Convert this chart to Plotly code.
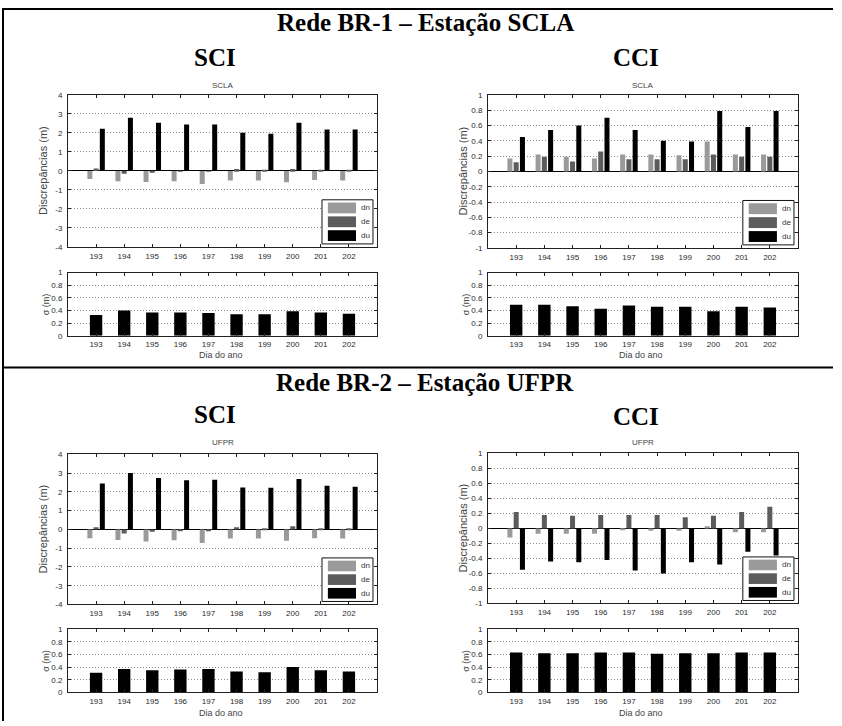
import plotly.graph_objects as go

W, H = 842, 726

# ---------------- data ----------------
days = [193, 194, 195, 196, 197, 198, 199, 200, 201, 202]

# Rede BR-1 - SCLA - SCI
scla_sci_dn = [-0.43, -0.55, -0.59, -0.55, -0.69, -0.50, -0.50, -0.60, -0.48, -0.50]
scla_sci_de = [0.12, -0.15, -0.08, -0.05, -0.02, 0.10, 0.01, 0.10, 0.01, 0.05]
scla_sci_du = [2.22, 2.79, 2.53, 2.44, 2.44, 2.01, 1.96, 2.53, 2.18, 2.18]
scla_sci_sigma = [0.33, 0.40, 0.37, 0.37, 0.36, 0.34, 0.34, 0.39, 0.37, 0.35]

# Rede BR-1 - SCLA - CCI
scla_cci_dn = [0.17, 0.22, 0.19, 0.17, 0.22, 0.22, 0.21, 0.39, 0.22, 0.22]
scla_cci_de = [0.12, 0.19, 0.13, 0.26, 0.16, 0.16, 0.16, 0.22, 0.19, 0.19]
scla_cci_du = [0.45, 0.54, 0.60, 0.70, 0.54, 0.40, 0.39, 0.79, 0.58, 0.79]
scla_cci_sigma = [0.49, 0.49, 0.47, 0.43, 0.48, 0.46, 0.46, 0.39, 0.46, 0.45]

# Rede BR-2 - UFPR - SCI
ufpr_sci_dn = [-0.47, -0.56, -0.65, -0.58, -0.73, -0.49, -0.49, -0.61, -0.47, -0.49]
ufpr_sci_de = [0.12, -0.22, -0.12, -0.06, -0.07, 0.12, 0.01, 0.17, 0.02, 0.05]
ufpr_sci_du = [2.45, 3.00, 2.74, 2.62, 2.65, 2.24, 2.22, 2.69, 2.32, 2.27]
ufpr_sci_sigma = [0.31, 0.37, 0.35, 0.36, 0.37, 0.33, 0.32, 0.40, 0.35, 0.33]

# Rede BR-2 - UFPR - CCI
ufpr_cci_dn = [-0.12, -0.07, -0.07, -0.07, -0.02, -0.03, -0.03, 0.03, -0.05, -0.05]
ufpr_cci_de = [0.22, 0.18, 0.17, 0.18, 0.18, 0.18, 0.15, 0.17, 0.22, 0.29]
ufpr_cci_du = [-0.55, -0.44, -0.45, -0.42, -0.56, -0.60, -0.45, -0.48, -0.31, -0.36]
ufpr_cci_sigma = [0.63, 0.62, 0.62, 0.63, 0.63, 0.61, 0.62, 0.62, 0.63, 0.63]

sci_yticks = [-4, -3, -2, -1, 0, 1, 2, 3, 4]
sci_yticktext = ["-4", "-3", "-2", "-1", "0", "1", "2", "3", "4"]
cci_yticks = [-1, -0.8, -0.6, -0.4, -0.2, 0, 0.2, 0.4, 0.6, 0.8, 1]
cci_yticktext = ["-1", "-0.8", "-0.6", "-0.4", "-0.2", "0", "0.2", "0.4", "0.6", "0.8", "1"]
sig_yticks = [0, 0.2, 0.4, 0.6, 0.8, 1]
sig_yticktext = ["0", "0.2", "0.4", "0.6", "0.8", "1"]
series_names = ["dn", "de", "du"]
series_colors = ["#9a9a9a", "#5c5c5c", "#000000"]

# ---------------- layout helpers ----------------
def fx(p):
    return p / W

def fy(p):
    return 1 - p / H

SANS = "Liberation Sans, Arial, sans-serif"
TICKFONT = dict(family=SANS, size=8, color="#2a2a2a")
GRID = "#8c8c8c"
AXC = "#222222"
DOTS = "1px,2px"

fig = go.Figure()

panels = [
    (1, 2, 68, 377, 92, 246, 272, 336,
     (scla_sci_dn, scla_sci_de, scla_sci_du, scla_sci_sigma), "sci", "SCLA", 83, 355),
    (3, 4, 488, 798, 92, 247, 272, 336,
     (scla_cci_dn, scla_cci_de, scla_cci_du, scla_cci_sigma), "cci", "SCLA", 83, 355),
    (5, 6, 68, 377, 456, 608, 633, 697,
     (ufpr_sci_dn, ufpr_sci_de, ufpr_sci_du, ufpr_sci_sigma), "sci", "UFPR", 444, 718),
    (7, 8, 488, 798, 455, 607, 633, 697,
     (ufpr_cci_dn, ufpr_cci_de, ufpr_cci_du, ufpr_cci_sigma), "cci", "UFPR", 444, 718),
]

bar_offsets = [-0.311, -0.089, 0.133]
bar_width = 0.178

annotations = []
shapes = []

def axname(i, kind):
    return kind if i == 1 else f"{kind}{i}"

for (mi, si, x0, x1, mt, mb, st, sb, data, kind, title, title_y, xlab_y) in panels:
    dn, de, du, sig = data
    for vals, name, col, off in zip((dn, de, du), series_names, series_colors, bar_offsets):
        fig.add_trace(go.Bar(
            x=days, y=vals, name=name, marker=dict(color=col, line=dict(width=0)),
            width=bar_width, offset=off, showlegend=False,
            xaxis=axname(mi, "x"), yaxis=axname(mi, "y")))
    fig.add_trace(go.Bar(
        x=days, y=sig, name="sigma", marker=dict(color="#000000", line=dict(width=0)),
        width=0.44, offset=-0.22, showlegend=False,
        xaxis=axname(si, "x"), yaxis=axname(si, "y")))

    common_x = dict(range=[192, 203], tickvals=days, ticktext=[str(d) for d in days],
                    ticks="inside", ticklen=3, tickcolor=AXC, showline=True, linecolor=AXC,
                    linewidth=1, mirror="ticks", showgrid=False, zeroline=False,
                    tickfont=TICKFONT, ticklabelstandoff=1, fixedrange=True)
    if kind == "sci":
        yr, tv, tt = [-4, 4], sci_yticks, sci_yticktext
    else:
        yr, tv, tt = [-1, 1], cci_yticks, cci_yticktext
    fig.layout[axname(mi, "xaxis")] = dict(domain=[fx(x0), fx(x1)], anchor=axname(mi, "y"), **common_x)
    fig.layout[axname(mi, "yaxis")] = dict(
        domain=[fy(mb), fy(mt)], anchor=axname(mi, "x"), range=yr, tickvals=tv, ticktext=tt,
        ticks="inside", ticklen=3, tickcolor=AXC, showline=True, linecolor=AXC, linewidth=1,
        mirror="ticks", showgrid=True, gridcolor=GRID, griddash=DOTS, gridwidth=1,
        zeroline=True, zerolinecolor="#000000", zerolinewidth=1,
        tickfont=TICKFONT, ticklabelstandoff=3, fixedrange=True)
    fig.layout[axname(si, "xaxis")] = dict(domain=[fx(x0), fx(x1)], anchor=axname(si, "y"), **common_x)
    fig.layout[axname(si, "yaxis")] = dict(
        domain=[fy(sb), fy(st)], anchor=axname(si, "x"), range=[0, 1], tickvals=sig_yticks,
        ticktext=sig_yticktext, ticks="inside", ticklen=3, tickcolor=AXC, showline=True,
        linecolor=AXC, linewidth=1, mirror="ticks", showgrid=True, gridcolor=GRID,
        griddash=DOTS, gridwidth=1, zeroline=False, tickfont=TICKFONT,
        ticklabelstandoff=3, fixedrange=True)

    cx = (x0 + x1) / 2
    annotations.append(dict(text=title, x=fx(cx), y=fy(title_y), xref="paper", yref="paper",
                            showarrow=False, font=dict(family=SANS, size=8, color="#444"),
                            xanchor="center", yanchor="middle"))
    annotations.append(dict(text="Discrepâncias (m)", x=fx(x0 - 25), y=fy((mt + mb) / 2),
                            xref="paper", yref="paper", showarrow=False, textangle=-90,
                            font=dict(family=SANS, size=11, color="#444"),
                            xanchor="center", yanchor="middle"))
    annotations.append(dict(text="σ (m)", x=fx(x0 - 22), y=fy((st + sb) / 2),
                            xref="paper", yref="paper", showarrow=False, textangle=-90,
                            font=dict(family=SANS, size=9, color="#444"),
                            xanchor="center", yanchor="middle"))
    annotations.append(dict(text="Dia do ano", x=fx(cx - 2), y=fy(xlab_y),
                            xref="paper", yref="paper", showarrow=False,
                            font=dict(family=SANS, size=9, color="#444"),
                            xanchor="center", yanchor="middle"))

    xr = f"{axname(mi, 'x')} domain"
    yrf = f"{axname(mi, 'y')} domain"
    shapes.append(dict(type="rect", xref=xr, yref=yrf, x0=0.822, x1=0.987, y0=0.02, y1=0.31,
                       fillcolor="white", line=dict(color="#111", width=1), layer="above"))
    for (ya, yb), name, col in zip([(0.221, 0.292), (0.130, 0.201), (0.039, 0.110)],
                                   series_names, series_colors):
        shapes.append(dict(type="rect", xref=xr, yref=yrf, x0=0.841, x1=0.932, y0=ya, y1=yb,
                           fillcolor=col, line=dict(width=0), layer="above"))
        annotations.append(dict(text=name, xref=xr, yref=yrf, x=0.942, y=(ya + yb) / 2,
                                showarrow=False, xanchor="left", yanchor="middle",
                                font=dict(family=SANS, size=8, color="#333")))

SERIF = "Liberation Serif, Times New Roman, serif"
for txt, x, y, size in [("<b>Rede BR-1 – Estação SCLA</b>", 425, 19, 25),
                        ("<b>SCI</b>", 215, 54, 25), ("<b>CCI</b>", 636, 54, 25),
                        ("<b>Rede BR-2 – Estação UFPR</b>", 425, 383, 25),
                        ("<b>SCI</b>", 215, 416, 25), ("<b>CCI</b>", 636, 418, 25)]:
    annotations.append(dict(text=txt, x=fx(x), y=fy(y), xref="paper", yref="paper",
                            showarrow=False, xanchor="center", yanchor="middle",
                            font=dict(family=SERIF, size=size, color="black")))

shapes.append(dict(type="line", xref="paper", yref="paper", x0=fx(2), x1=fx(833), y0=fy(5), y1=fy(5),
                   line=dict(color="black", width=2)))
shapes.append(dict(type="line", xref="paper", yref="paper", x0=fx(2), x1=fx(833), y0=fy(368), y1=fy(368),
                   line=dict(color="black", width=2)))
shapes.append(dict(type="line", xref="paper", yref="paper", x0=fx(3), x1=fx(3), y0=fy(4), y1=fy(726),
                   line=dict(color="black", width=2)))

fig.update_layout(
    width=W, height=H, margin=dict(l=0, r=0, t=0, b=0),
    paper_bgcolor="white", plot_bgcolor="white", barmode="overlay",
    showlegend=False, annotations=annotations, shapes=shapes,
)

fig.write_html("out.html", config={"displayModeBar": False},
               post_script="document.body.style.margin='0';document.body.style.padding='0';")
